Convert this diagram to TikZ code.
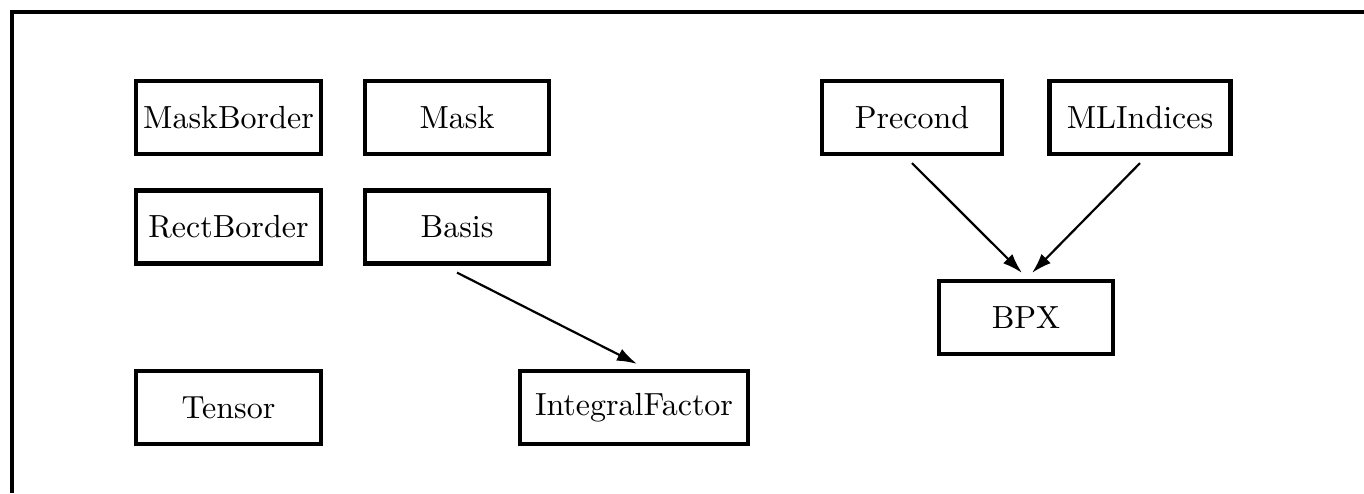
\documentclass[tikz,border=0pt]{standalone}
\usepackage{graphicx}
\usetikzlibrary{arrows.meta}
\begin{document}
\begin{tikzpicture}[x=1pt,y=-1pt,
  box/.style={draw,line width=4.2pt,inner sep=0pt,minimum height=73pt},
  arr/.style={line width=2.2pt,-{Latex[length=20pt,width=13pt]}}]
\useasboundingbox (0,0) rectangle (1364,493);
\draw[line width=4.5pt] (12,493) -- (12,12) -- (1364,12);
\newcommand{\tx}[1]{\scalebox{3.2}{#1}}
\node[box,minimum width=185pt] (maskborder) at (228.5,117.5) {\tx{MaskBorder}};
\node[box,minimum width=184pt] (mask) at (457,117.5) {\tx{Mask}};
\node[box,minimum width=185pt] (rectborder) at (228.5,227) {\tx{RectBorder}};
\node[box,minimum width=184pt] (basis) at (457,227) {\tx{Basis}};
\node[box,minimum width=185pt] (tensor) at (228.5,407.5) {\tx{Tensor}};
\node[box,minimum width=228pt] (integral) at (634,407.5) {\tx{IntegralFactor}};
\node[box,minimum width=180pt] (precond) at (912,117.5) {\tx{Precond}};
\node[box,minimum width=181pt] (mlindices) at (1140,117.5) {\tx{MLIndices}};
\node[box,minimum width=174pt] (bpx) at (1026,317.5) {\tx{BPX}};
\draw[arr] ([yshift=-7pt]basis.south) -- ([xshift=3pt,yshift=5pt]integral.north);
\draw[arr] ([yshift=-7pt]precond.south) -- ([xshift=-4pt,yshift=6pt]bpx.north);
\draw[arr] ([yshift=-7pt]mlindices.south) -- ([xshift=6pt,yshift=6pt]bpx.north);
\end{tikzpicture}
\end{document}
